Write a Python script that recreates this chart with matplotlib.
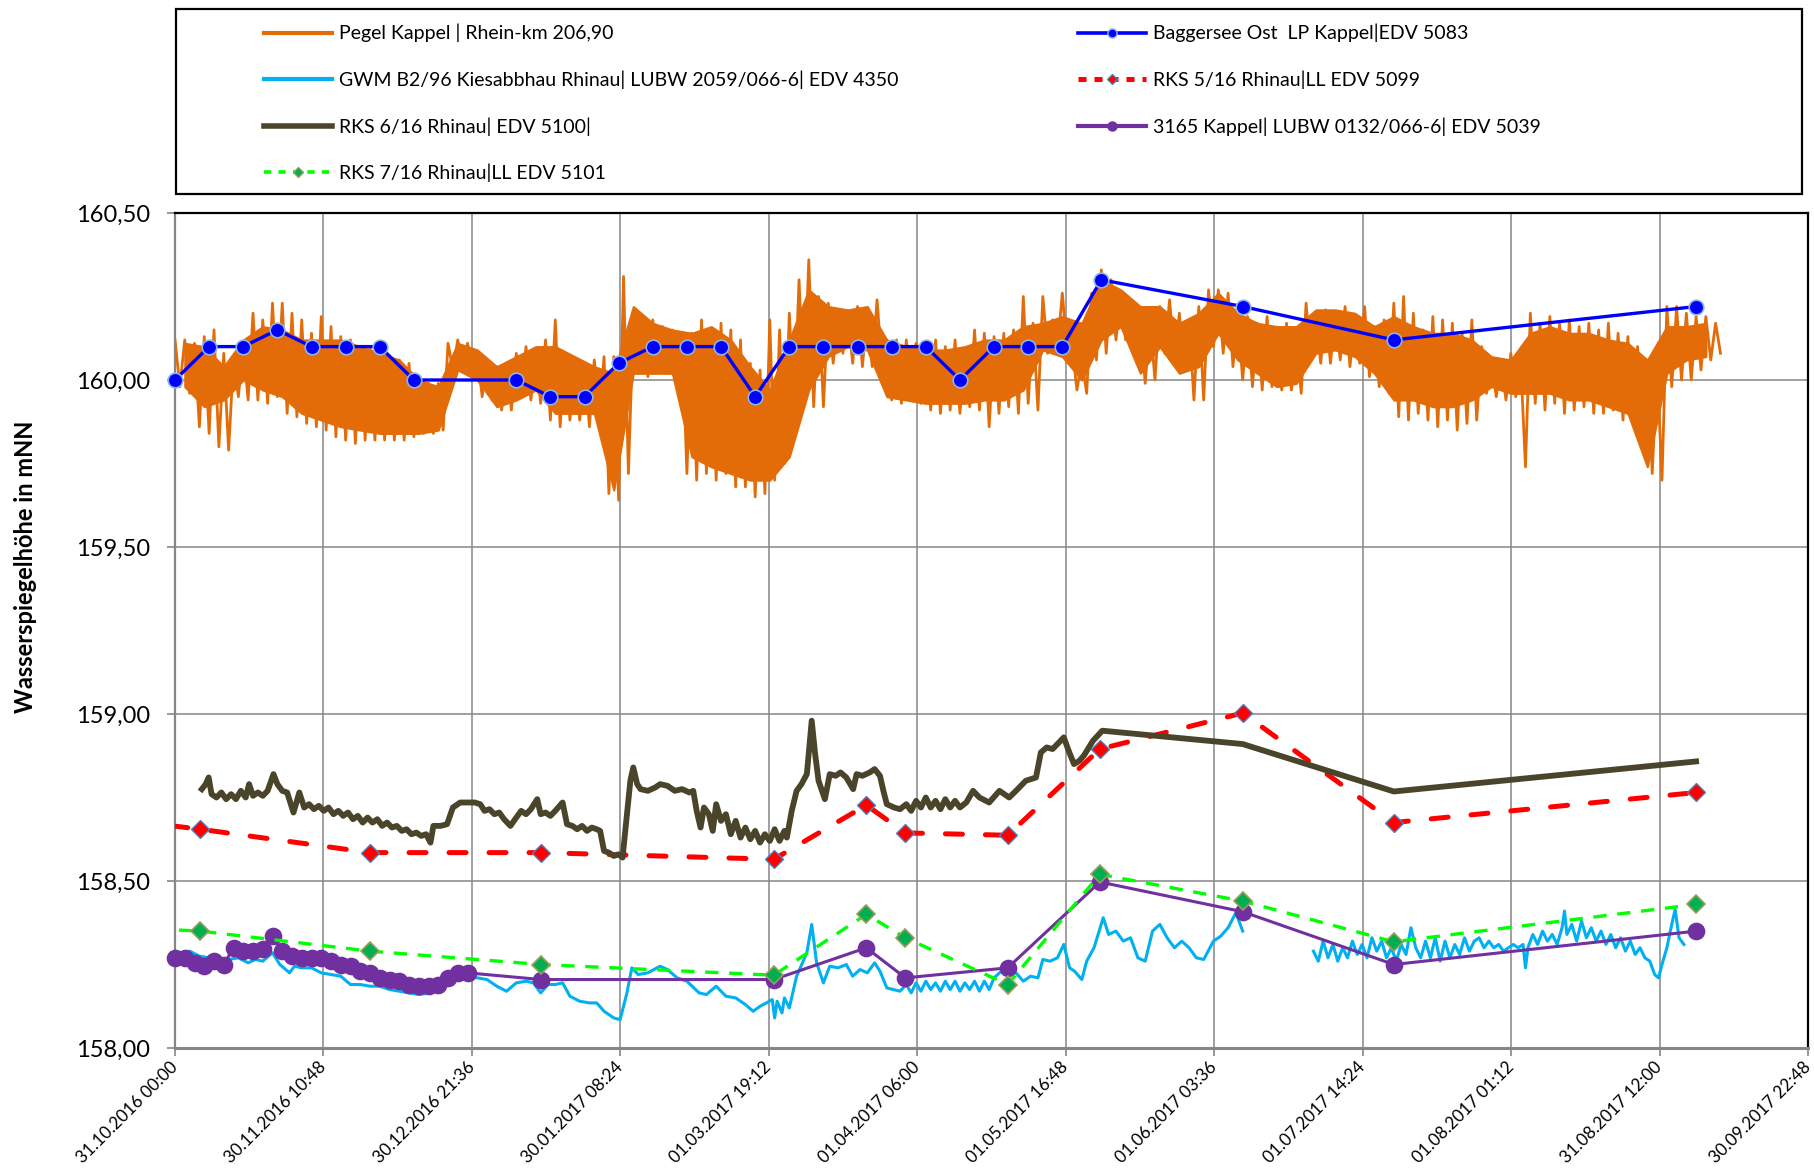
import numpy as np
import matplotlib
matplotlib.use("Agg")
import matplotlib.pyplot as plt
import matplotlib.dates as mdates
from matplotlib.lines import Line2D
from matplotlib.patches import Rectangle
from matplotlib.transforms import ScaledTranslation
from datetime import datetime

plt.rcParams['font.family'] = ['Lato', 'DejaVu Sans']

# ---------------- data (days after 31.10.2016 00:00) ----------------
START = datetime(2016, 10, 31)

x_tick_labels = ["31.10.2016 00:00", "30.11.2016 10:48", "30.12.2016 21:36",
                 "30.01.2017 08:24", "01.03.2017 19:12", "01.04.2017 06:00",
                 "01.05.2017 16:48", "01.06.2017 03:36", "01.07.2017 14:24",
                 "01.08.2017 01:12", "31.08.2017 12:00", "30.09.2017 22:48"]
y_ticks = [158.0, 158.5, 159.0, 159.5, 160.0, 160.5]

# Pegel Kappel: daily high / low readings every 2 days (day 0 .. 316)
pegel_days = list(range(0, 317, 2))
pegel_hi = [160.12, 160.12, 160.11, 160.13, 160.15, 160.08, 160.06, 160.10, 160.20, 160.18,
            160.23, 160.23, 160.20, 160.18, 160.14, 160.19, 160.16, 160.13, 160.12, 160.10,
            160.10, 160.09, 160.07, 160.06, 160.05, 159.99, 159.99, 159.99, 160.11, 160.12,
            160.11, 160.08, 160.06, 160.04, 160.04, 160.08, 160.10, 160.08, 160.12, 160.18,
            160.08, 160.06, 160.05, 160.06, 160.07, 160.07, 160.31, 160.17, 160.16, 160.18,
            160.16, 160.15, 160.14, 160.14, 160.18, 160.15, 160.17, 160.15, 160.12, 160.05,
            160.03, 160.18, 160.15, 160.20, 160.30, 160.36, 160.25, 160.23, 160.20, 160.19,
            160.22, 160.21, 160.24, 160.12, 160.12, 160.12, 160.11, 160.11, 160.12, 160.10,
            160.12, 160.09, 160.15, 160.14, 160.13, 160.14, 160.15, 160.25, 160.17, 160.25,
            160.18, 160.26, 160.10, 160.06, 160.26, 160.33, 160.30, 160.26, 160.23, 160.18,
            160.18, 160.22, 160.24, 160.20, 160.18, 160.22, 160.27, 160.27, 160.26, 160.19,
            160.19, 160.17, 160.19, 160.15, 160.17, 160.14, 160.23, 160.20, 160.21, 160.20,
            160.22, 160.19, 160.22, 160.16, 160.18, 160.23, 160.25, 160.20, 160.15, 160.19,
            160.18, 160.17, 160.14, 160.18, 160.10, 160.06, 160.05, 160.08, 160.06, 160.20,
            160.17, 160.19, 160.17, 160.18, 160.16, 160.17, 160.15, 160.17, 160.14, 160.13,
            160.10, 160.05, 160.04, 160.22, 160.22, 160.20, 160.19, 160.19, 160.17]
pegel_lo = [159.98, 159.96, 159.86, 159.84, 159.80, 159.79, 159.95, 159.94, 159.94, 159.93,
            159.95, 159.90, 159.89, 159.87, 159.86, 159.85, 159.83, 159.82, 159.81, 159.82,
            159.82, 159.82, 159.82, 159.82, 159.83, 159.84, 159.84, 159.85, 160.03, 160.04,
            160.03, 159.95, 159.94, 159.91, 159.91, 159.96, 159.94, 159.93, 159.88, 159.86,
            159.88, 159.88, 159.86, 159.87, 159.66, 159.64, 159.72, 160.02, 160.01, 160.03,
            160.02, 160.01, 159.72, 159.70, 159.72, 159.70, 159.72, 159.68, 159.68, 159.65,
            159.66, 159.70, 159.75, 159.90, 159.95, 159.92, 159.92, 160.05, 160.08, 160.05,
            160.04, 160.04, 160.04, 159.94, 159.93, 159.95, 159.93, 159.91, 159.90, 159.91,
            159.90, 159.92, 159.91, 159.86, 159.90, 159.92, 159.90, 159.93, 159.91, 160.08,
            160.09, 160.09, 159.97, 159.96, 160.06, 160.08, 160.12, 160.12, 160.10, 159.99,
            160.00, 160.08, 160.06, 160.03, 159.94, 159.94, 160.10, 160.08, 160.04, 160.00,
            159.98, 159.97, 159.98, 159.97, 159.97, 159.96, 160.06, 160.05, 160.05, 160.06,
            160.04, 160.05, 160.01, 159.98, 159.96, 159.89, 159.88, 159.90, 159.88, 159.86,
            159.88, 159.85, 159.87, 159.88, 159.96, 159.95, 159.94, 159.95, 159.74, 159.93,
            159.91, 159.93, 159.90, 159.91, 159.92, 159.90, 159.90, 159.91, 159.88, 159.87,
            159.86, 159.72, 159.70, 159.98, 160.00, 160.00, 160.03, 160.06, 160.08]

# Pegel Kappel: dense core of the trace, 4-day bins (bin centres day 2 .. 314)
core_days = list(range(2, 315, 4))
core_hi = [160.11, 160.10, 160.04, 160.12, 160.16, 160.15, 160.12, 160.12, 160.12, 160.10,
           160.08, 160.06, 160.00, 159.98, 160.11, 160.09, 160.04, 160.07, 160.10, 160.10,
           160.07, 160.04, 160.02, 160.22, 160.17, 160.15, 160.14, 160.16, 160.12, 160.04,
           159.97, 160.12, 160.27, 160.22, 160.21, 160.22, 160.12, 160.10, 160.09, 160.09,
           160.10, 160.12, 160.12, 160.16, 160.17, 160.19, 160.17, 160.30, 160.27, 160.22,
           160.22, 160.17, 160.20, 160.26, 160.20, 160.17, 160.16, 160.16, 160.21, 160.21,
           160.20, 160.16, 160.19, 160.16, 160.14, 160.14, 160.12, 160.07, 160.06, 160.14,
           160.16, 160.14, 160.14, 160.12, 160.11, 160.06, 160.16, 160.16, 160.17]
core_lo = [159.98, 159.92, 159.94, 160.00, 159.97, 159.95, 159.90, 159.88, 159.86, 159.85,
           159.84, 159.84, 159.84, 159.85, 160.03, 160.00, 159.92, 159.94, 159.97, 159.90,
           159.90, 159.90, 159.67, 160.02, 160.02, 160.02, 159.77, 159.74, 159.72, 159.70,
           159.70, 159.77, 159.97, 160.07, 160.10, 160.09, 159.95, 159.94, 159.93, 159.93,
           159.93, 159.94, 159.94, 159.97, 160.09, 160.07, 160.00, 160.12, 160.16, 160.02,
           160.10, 160.02, 160.04, 160.14, 160.06, 160.02, 159.98, 159.99, 160.08, 160.09,
           160.07, 160.02, 159.94, 159.94, 159.92, 159.92, 159.94, 159.98, 159.96, 159.96,
           159.96, 159.94, 159.94, 159.92, 159.90, 159.74, 160.02, 160.06, 160.07]

# Baggersee Ost LP Kappel
bag_days = [0, 7, 14, 21, 28, 35, 42, 49, 70, 77, 84, 91, 98, 105, 112, 119, 126, 133,
            140, 147, 154, 161, 168, 175, 182, 190, 219, 250, 312]
bag_vals = [160.00, 160.10, 160.10, 160.15, 160.10, 160.10, 160.10, 160.00, 160.00, 159.95,
            159.95, 160.05, 160.10, 160.10, 160.10, 159.95, 160.10, 160.10, 160.10, 160.10,
            160.10, 160.00, 160.10, 160.10, 160.10, 160.30, 160.22, 160.12, 160.22]

# GWM B2/96 (nan = no data)
gwm_days = [0, 1.5, 3, 5, 7, 9, 11, 13, 15, 16.5, 18, 20, 21.5, 23.5, 24.5, 26, 28, 30, 32, 34,
            36, 38, 40, 42, 44, 46, 48, 50, 52.5, 54, 56, 58, 60, 62, 64, 66, 68, 70, 72, 73.5,
            75, 76.5, 78, 79.5, 81, 83, 85, 86.5, 88, 90, 91.3, 92.7, 93.7, 95, 97, 99.5, 101,
            103, 105, 107.5, 109, 111, 113, 115, 117, 118.6, 120, 121.3, 122.5, 123, 123.5,
            124.5, 125, 126, 127.5, 129.6, 130.6, 131.6, 133, 134.3, 136, 137.7, 139, 140.5,
            142, 143.5, 144.6, 146, 148.7, 150, 151, 152, 153, 154, 155, 156, 157, 158, 159,
            160, 161, 162, 163, 164, 165, 166, 167, 168, 169.5, 171, 172.5, 174, 175.5, 177,
            178, 179.5, 181, 182.3, 183.5, 184.5, 186, 187, 188.5, 190.4, 191.5, 193, 194.5,
            196, 197.5, 199, 200.5, 202, 203.5, 205, 206.5, 208, 209.5, 211, 213, 214.5, 216,
            217.6, 219, 226,
            233.5, 234.5, 235.5, 236.5, 237.5, 238.5, 239.5, 240.5, 241.5, 242.5, 243.5, 244.5,
            245.5, 246.5, 247.5, 248.5, 249.5, 250.5, 251.5, 252.5, 253.5, 254.5, 255.5, 256.5,
            257.5, 258.5, 259.5, 260.5, 261.5, 262.5, 263.5, 264.5, 265.5, 266.5, 267.5, 268.5,
            269.5, 270.5, 271.5, 272.5, 273.5, 274.5, 275.5, 276.5, 277, 277.5, 278.5, 279.5,
            280.5, 281.5, 282.5, 283.5, 284.5, 285, 285.5, 286.5, 287.5, 288.5, 289.5, 290.5,
            291.5, 292.5, 293.5, 294.5, 295.5, 296.5, 297.5, 298.5, 299.5, 300.5, 301.5, 302.5,
            303.5, 304.3, 305, 306, 307, 307.7, 308.5, 309.5]
gwm_vals = [158.29, 158.285, 158.29, 158.275, 158.27, 158.26, 158.265, 158.27, 158.255, 158.265,
            158.26, 158.285, 158.25, 158.225, 158.245, 158.24, 158.24, 158.225, 158.22, 158.215,
            158.19, 158.19, 158.185, 158.185, 158.175, 158.17, 158.165, 158.16, 158.165, 158.185,
            158.205, 158.22, 158.215, 158.21, 158.205, 158.185, 158.17, 158.195, 158.2, 158.195,
            158.165, 158.19, 158.19, 158.195, 158.155, 158.14, 158.135, 158.135, 158.11, 158.09,
            158.085, 158.165, 158.24, 158.22, 158.225, 158.245, 158.235, 158.21, 158.2, 158.165,
            158.16, 158.185, 158.155, 158.15, 158.13, 158.11, 158.125, 158.135, 158.145, 158.09,
            158.14, 158.105, 158.15, 158.12, 158.215, 158.285, 158.37, 158.255, 158.195, 158.245,
            158.24, 158.25, 158.215, 158.235, 158.225, 158.255, 158.23, 158.18, 158.17, 158.19,
            158.165, 158.195, 158.17, 158.2, 158.175, 158.195, 158.17, 158.2, 158.175, 158.2,
            158.17, 158.195, 158.175, 158.2, 158.17, 158.2, 158.175, 158.21, 158.23, 158.24,
            158.225, 158.2, 158.215, 158.21, 158.265, 158.26, 158.27, 158.31, 158.24, 158.23,
            158.205, 158.26, 158.3, 158.39, 158.34, 158.35, 158.32, 158.33, 158.27, 158.26,
            158.35, 158.37, 158.33, 158.3, 158.32, 158.3, 158.27, 158.265, 158.32, 158.335,
            158.36, 158.405, 158.35, np.nan,
            158.29, 158.26, 158.32, 158.27, 158.31, 158.26, 158.3, 158.27, 158.32, 158.28,
            158.31, 158.27, 158.33, 158.29, 158.32, 158.27, 158.3, 158.26, 158.31, 158.28,
            158.36, 158.3, 158.27, 158.32, 158.27, 158.33, 158.26, 158.32, 158.27, 158.31,
            158.28, 158.33, 158.29, 158.32, 158.33, 158.3, 158.32, 158.3, 158.31, 158.29,
            158.3, 158.31, 158.3, 158.31, 158.24, 158.3, 158.34, 158.31, 158.35, 158.32,
            158.34, 158.31, 158.36, 158.41, 158.34, 158.37, 158.32, 158.38, 158.33, 158.36,
            158.32, 158.35, 158.31, 158.34, 158.3, 158.33, 158.29, 158.32, 158.28, 158.3,
            158.27, 158.26, 158.22, 158.21, 158.25, 158.3, 158.37, 158.415, 158.33, 158.31]

# RKS 5/16 Rhinau (first point lies before the axis start)
rks5_days = [-9, 5.2, 40.0, 75.1, 122.8, 141.8, 149.8, 170.8, 189.7, 219, 250, 312]
rks5_vals = [158.68, 158.655, 158.585, 158.585, 158.565, 158.727, 158.644, 158.637,
             158.895, 159.003, 158.675, 158.765]

# RKS 6/16 Rhinau
rks6_days = [5.5, 6.3, 6.9, 7.5, 8.5, 9.5, 10.5, 11.5, 12.5, 13.5, 14.5, 15.2, 16, 17, 18, 19,
             20.2, 21, 22, 23, 24.3, 25.5, 26.5, 27.5, 28.5, 29.5, 30.5, 31.5, 32.5, 33.5, 34.5,
             35.5, 36.5, 37.5, 38.5, 39.5, 40.5, 41.5, 42.5, 43.5, 44.5, 45.5, 46.5, 47.5, 48.5,
             49.5, 50.5, 51.5, 52.4, 53, 54.5, 55.8, 57, 58.5, 60, 61.5, 62.6, 63.5, 64.5, 65.5,
             66.5, 67.5, 68.8, 70, 71, 72, 73, 74.3, 75, 76, 77, 78, 79.5, 80.4, 81.5, 82.5, 83.5,
             84.5, 85.5, 86.5, 87.2, 88, 89, 90, 91, 91.8, 92.7, 93.4, 94, 94.8, 95.5, 97, 98.5,
             99.5, 101, 102.5, 104, 105.5, 106.3, 107, 107.8, 108.5, 109.5, 110.3, 111, 112, 113,
             114, 115, 116, 117, 118, 119, 120, 121, 122, 123, 124, 125, 125.5, 126.5, 127.5,
             128.5, 129.6, 130.6, 131.3, 132, 133.3, 134.3, 135.5, 136.5, 137.7, 139.1, 139.8,
             141, 142.5, 143.5, 144.6, 145.3, 146, 147.5, 148.7, 150, 151, 152, 153, 154, 155,
             156, 157, 158, 159, 160, 161, 162.3, 163.7, 165, 167, 169.1, 171.1, 172.5, 174.5,
             176.6, 177.6, 178.8, 180, 181, 182.3, 183.3, 184.4, 185.5, 186.4, 188.3, 190.2,
             219, 250, 312]
rks6_vals = [158.775, 158.79, 158.81, 158.76, 158.75, 158.765, 158.745, 158.76, 158.745, 158.77,
             158.75, 158.79, 158.755, 158.765, 158.755, 158.77, 158.82, 158.79, 158.77, 158.765,
             158.705, 158.765, 158.72, 158.73, 158.715, 158.725, 158.71, 158.72, 158.7, 158.71,
             158.695, 158.705, 158.685, 158.695, 158.675, 158.69, 158.675, 158.685, 158.665,
             158.675, 158.66, 158.665, 158.65, 158.655, 158.64, 158.645, 158.635, 158.64, 158.615,
             158.665, 158.665, 158.67, 158.72, 158.735, 158.735, 158.735, 158.73, 158.71, 158.715,
             158.7, 158.705, 158.685, 158.665, 158.69, 158.71, 158.7, 158.715, 158.745, 158.7,
             158.705, 158.695, 158.71, 158.735, 158.67, 158.665, 158.655, 158.665, 158.65, 158.66,
             158.655, 158.65, 158.59, 158.585, 158.575, 158.58, 158.57, 158.7, 158.8, 158.84,
             158.79, 158.775, 158.77, 158.78, 158.79, 158.785, 158.77, 158.775, 158.765, 158.77,
             158.71, 158.66, 158.72, 158.7, 158.65, 158.73, 158.68, 158.7, 158.64, 158.68, 158.63,
             158.66, 158.625, 158.65, 158.615, 158.64, 158.62, 158.655, 158.62, 158.65, 158.63,
             158.71, 158.77, 158.79, 158.82, 158.98, 158.88, 158.8, 158.745, 158.82, 158.815,
             158.825, 158.81, 158.775, 158.82, 158.815, 158.825, 158.835, 158.815, 158.77, 158.73,
             158.72, 158.715, 158.73, 158.71, 158.74, 158.72, 158.75, 158.72, 158.74, 158.715,
             158.745, 158.72, 158.74, 158.72, 158.735, 158.77, 158.75, 158.735, 158.77, 158.75,
             158.77, 158.8, 158.81, 158.885, 158.9, 158.895, 158.91, 158.93, 158.89, 158.85,
             158.86, 158.875, 158.92, 158.95, 158.91, 158.768, 158.858]

# 3165 Kappel
k3165_days = [0, 2, 4, 6, 8, 10, 12, 14, 16, 18, 20, 22, 24, 26, 28, 30, 32, 34, 36, 38, 40,
              42, 44, 46, 48, 50, 52, 54, 56, 58, 60, 75.1, 122.8, 141.8, 149.8, 170.8, 189.7,
              219, 250, 312]
k3165_vals = [158.27, 158.27, 158.255, 158.245, 158.26, 158.25, 158.30, 158.29, 158.29, 158.295,
              158.335, 158.29, 158.275, 158.27, 158.27, 158.268, 158.26, 158.25, 158.245, 158.23,
              158.225, 158.21, 158.205, 158.20, 158.19, 158.185, 158.185, 158.19, 158.21, 158.225,
              158.225, 158.205, 158.205, 158.30, 158.21, 158.24, 158.497, 158.408, 158.25, 158.35]

# RKS 7/16 Rhinau (first point lies before the axis start)
rks7_days = [-9, 5.2, 40.0, 75.1, 122.8, 141.8, 149.8, 170.8, 189.7, 219, 250, 312]
rks7_vals = [158.36, 158.35, 158.29, 158.25, 158.218, 158.40, 158.33, 158.19, 158.52, 158.44,
             158.318, 158.43]

labels = ["Pegel Kappel | Rhein-km 206,90",
          "Baggersee Ost  LP Kappel|EDV 5083",
          "GWM B2/96 Kiesabbhau Rhinau| LUBW 2059/066-6| EDV 4350",
          "RKS 5/16 Rhinau|LL EDV 5099",
          "RKS 6/16 Rhinau| EDV 5100|",
          "3165 Kappel| LUBW 0132/066-6| EDV 5039",
          "RKS 7/16 Rhinau|LL EDV 5101"]

# ---------------- styling ----------------
C_ORANGE = '#E36C09'
C_BLUE = '#0000FF'
C_CYAN = '#00B0F0'
C_RED = '#FF0000'
C_OLIVE = '#4A452A'
C_PURPLE = '#7030A0'
C_GREEN = '#00FF00'
GRID = '#868686'

W, H = 1814, 1170
fig = plt.figure(figsize=(W / 100, H / 100), dpi=100)
ax = fig.add_axes([175 / W, 1 - 1048 / H, (1808 - 175) / W, (1048 - 213) / H])

t0 = mdates.date2num(START)


def X(days):
    return t0 + np.asarray(days, dtype=float)


# Pegel: dense core band plus zig-zag of the high / low readings
ax.fill_between(X(core_days), core_lo, core_hi, color=C_ORANGE, lw=1.5,
                edgecolor=C_ORANGE, zorder=3)
pd_arr = np.asarray(pegel_days, float)
px = np.empty(2 * len(pd_arr))
py = np.empty(2 * len(pd_arr))
px[0::2] = pd_arr
px[1::2] = pd_arr + 1
py[0::2] = pegel_hi
py[1::2] = pegel_lo
ax.plot(X(px), py, color=C_ORANGE, lw=2.0, zorder=3)

ax.plot(X(bag_days), bag_vals, color=C_BLUE, lw=2.4, marker='o', ms=10.5,
        mfc=C_BLUE, mec='#8EB4E3', mew=1.2, zorder=4, clip_on=False)
ax.plot(X(gwm_days), gwm_vals, color=C_CYAN, lw=2.2, zorder=5)
ax.plot(X(rks5_days), rks5_vals, color=C_RED, lw=3.6, dashes=(3.4, 4.6),
        dash_capstyle='round', marker='D', ms=9, mfc=C_RED, mec='#4F81BD', mew=1.0,
        zorder=6)
ax.plot(X(rks6_days), rks6_vals, color=C_OLIVE, lw=4.2, zorder=7, solid_joinstyle='round')
ax.plot(X(k3165_days), k3165_vals, color=C_PURPLE, lw=2.2, marker='o', ms=11.7,
        mfc=C_PURPLE, mec=C_PURPLE, zorder=8, clip_on=False)
ax.plot(X(rks7_days), rks7_vals, color=C_GREEN, lw=2.4, dashes=(4.0, 3.2),
        marker='D', ms=9.5, mfc='#00B050', mec='#9C9C5C', mew=1.2, zorder=9)

# axes
tick_pos = [mdates.date2num(datetime.strptime(s, "%d.%m.%Y %H:%M")) for s in x_tick_labels]
ax.set_xlim(tick_pos[0], tick_pos[-1])
ax.set_ylim(158.0, 160.5)
ax.set_xticks(tick_pos)
ax.set_xticklabels(x_tick_labels, rotation=45, ha='right', va='center',
                   rotation_mode='anchor', fontsize=12.3)
shift = ScaledTranslation(-6 / 100, 0, fig.dpi_scale_trans)
for lbl in ax.get_xticklabels():
    lbl.set_transform(lbl.get_transform() + shift)
ax.set_yticks(y_ticks)
ax.set_yticklabels([f"{v:.2f}".replace('.', ',') for v in y_ticks], fontsize=17)
ax.tick_params(axis='both', direction='out', length=6, width=1.2, color=GRID)
ax.tick_params(axis='y', pad=12)
ax.tick_params(axis='x', pad=6)
ax.grid(True, color=GRID, lw=1.1, zorder=0)
ax.set_axisbelow(True)
for s in ['top', 'right']:
    ax.spines[s].set_color('black')
    ax.spines[s].set_linewidth(1.6)
ax.spines['left'].set_color(GRID)
ax.spines['left'].set_linewidth(1.6)
ax.spines['bottom'].set_color(GRID)
ax.spines['bottom'].set_linewidth(2.2)

fig.text(26 / W, 1 - 567 / H, "Wasserspiegelhöhe in mNN", rotation=90,
         ha='center', va='center', fontsize=17, fontweight='bold')

# legend frame
fig.patches.append(Rectangle((176 / W, 1 - 194 / H), (1802 - 176) / W, (194 - 9) / H,
                             transform=fig.transFigure, fill=False, ec='black', lw=1.6))

h = [Line2D([], [], color=C_ORANGE, lw=3.0),
     Line2D([], [], color=C_BLUE, lw=2.6, marker='o', ms=6.5, mfc=C_BLUE, mec='#8EB4E3'),
     Line2D([], [], color=C_CYAN, lw=3.0),
     Line2D([], [], color=C_RED, lw=3.6, dashes=(1.6, 1.6), marker='D', ms=5.5,
            mfc=C_RED, mec='#4F81BD'),
     Line2D([], [], color=C_OLIVE, lw=4.0),
     Line2D([], [], color=C_PURPLE, lw=3.0, marker='o', ms=6.5, mfc=C_PURPLE, mec=C_PURPLE),
     Line2D([], [], color=C_GREEN, lw=2.6, dashes=(2.0, 2.0), marker='D', ms=5.5,
            mfc='#00B050', mec='#9C9C5C')]

FS = 14
common = dict(loc='upper left', frameon=False, fontsize=FS, borderpad=0, borderaxespad=0,
              handlelength=68 / (FS * 100 / 72), handletextpad=7 / (FS * 100 / 72),
              labelspacing=1.44)
fig.legend([h[0], h[2], h[4], h[6]], [labels[0], labels[2], labels[4], labels[6]],
           bbox_to_anchor=(264 / W, 1 - 24 / H), **common)
fig.legend([h[1], h[3], h[5]], [labels[1], labels[3], labels[5]],
           bbox_to_anchor=(1078 / W, 1 - 24 / H), **common)

fig.savefig("out.png", dpi=100)
